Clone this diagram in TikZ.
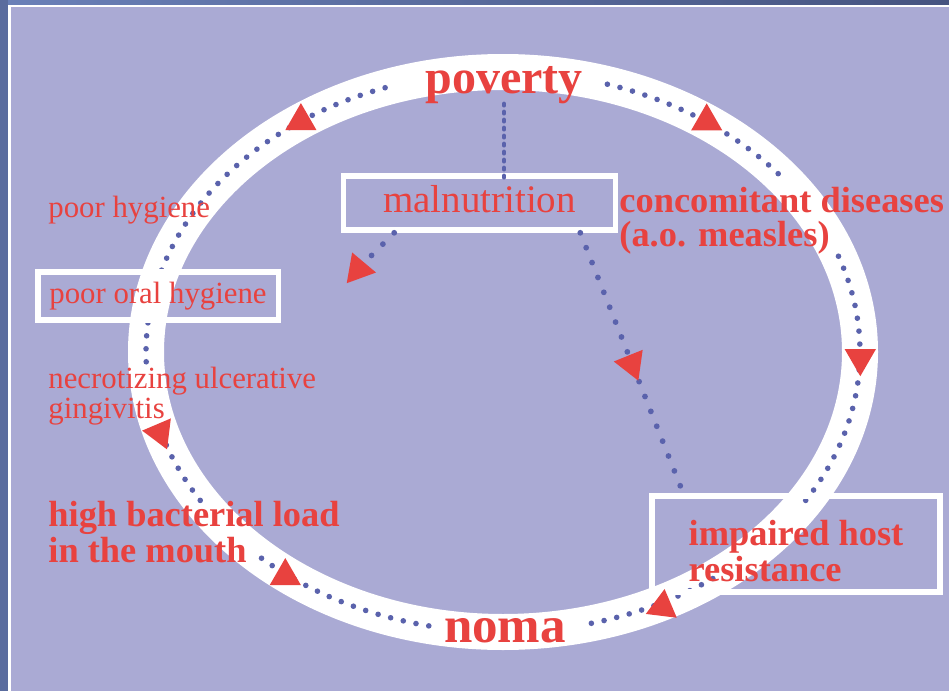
\documentclass[tikz,border=0pt]{standalone}
\usepackage{fontspec}
\setmainfont{Liberation Serif}
\usetikzlibrary{shapes.geometric}

\definecolor{lavender}{HTML}{AAAAD4}
\definecolor{nomared}{HTML}{E8423F}
\definecolor{dotblue}{HTML}{5A62AC}
\definecolor{bandblue}{HTML}{5A6C9E}
\definecolor{topblueA}{HTML}{6A80B8}
\definecolor{topblueB}{HTML}{7D93C9}
\definecolor{topblueC}{HTML}{465480}

\tikzset{
  ringdots/.style={dotblue, line width=2.8pt, line cap=round, dash pattern=on 0pt off 6.5pt},
  linkdots/.style={dotblue, line width=2.9pt, line cap=round, dash pattern=on 0pt off 8pt},
  dashlink/.style={dotblue, line width=2.2pt, line cap=round, dash pattern=on 0.8pt off 3.2pt},
  whitebox/.style={draw=white, line width=2.8pt, rectangle, inner sep=0pt},
  tri/.style={regular polygon, regular polygon sides=3, fill=nomared, minimum size=18pt, inner sep=0pt},
  bigword/.style={text=nomared, font=\fontsize{24}{24}\selectfont\bfseries, inner sep=0pt},
  boldtext/.style={text=nomared, font=\fontsize{18.2}{18}\selectfont\bfseries, align=left, inner sep=0pt},
  plaintext/.style={text=nomared, font=\fontsize{15.4}{15}\selectfont, align=left, inner sep=0pt}
}

\begin{document}
\begin{tikzpicture}[x=0.5pt,y=-0.5pt]
  \useasboundingbox (0,0) rectangle (949,691);
  % slide background
  \fill[lavender] (0,0) rectangle (949,691);
  \shade[left color=topblueA, middle color=topblueB, right color=topblueC] (0,0) rectangle (949,4.5);
  \fill[bandblue] (0,0) rectangle (8,691);
  \draw[white, line width=1pt] (8,5.5) -- (949,5.5);
  \draw[white, line width=1.6pt] (9.6,5.5) -- (9.6,691);

  % the ring
  \draw[white, line width=18pt] (503,352) ellipse [x radius=357, y radius=280];
  \foreach \a/\b in {287/321.3, 340/392.4, 54/77, 102/133.5, 148/163, 178/188, 197/252.5}
    \draw[ringdots] plot[variable=\t, domain=\a:\b, samples=40, smooth]
      ({503+357*cos(\t)}, {352+280*sin(\t)});

  % labels
  \node[bigword, anchor=base] (poverty) at (504,93) {poverty};
  \node[bigword, font=\fontsize{25.5}{26}\selectfont\bfseries, anchor=base] (noma) at (505,642) {noma};
  \node[whitebox, text=nomared, font=\fontsize{19.5}{20}\selectfont, text depth=4.3pt,
        minimum width=136pt, minimum height=27pt] (malnut) at (479.5,203) {malnutrition};
  \node[boldtext, font=\fontsize{18.2}{17}\selectfont\bfseries, anchor=base west] (concom) at (619,246)
    {concomitant diseases\\(a.o. measles)};
  \node[whitebox, boldtext, text height=37.5pt, minimum width=144pt, minimum height=48pt] (host)
    at (796,544) {impaired host\\resistance};
  \node[plaintext, anchor=base west] (hyg) at (48,217) {poor hygiene};
  \node[whitebox, plaintext, minimum width=120.3pt, minimum height=24.2pt] (oral) at (158,296)
    {poor oral hygiene};
  \node[plaintext, anchor=base west] (nug) at (48,418) {necrotizing ulcerative\\gingivitis};
  \node[boldtext, anchor=base west] (load) at (48,562) {high bacterial load\\in the mouth};

  % links out of malnutrition
  \coordinate (nutend) at (362,265);
  \draw[dashlink, shorten >=-4pt] (poverty.south) -- (poverty.south |- malnut.north);
  \draw[linkdots] ([xshift=26.75pt]malnut.south west) -- (nutend);
  \draw[linkdots] ([xshift=-19pt]malnut.south east) -- ([xshift=17pt]host.north west);
  \node[tri, rotate=140] (tip1) at (358.3,269.4) {};
  \node[tri, rotate=-38] (tip2) at (631.6,364) {};

  % arrowheads on the ring
  \node[tri] (tri1) at (300.9,121.1) {};
  \node[tri] (tri2) at (706.7,121.4) {};
  \node[tri, rotate=180] (tri3) at (860.3,358.2) {};
  \node[tri, rotate=-7] (tri4) at (662.4,606.9) {};
  \node[tri] (tri5) at (285.3,576.1) {};
  \node[tri, rotate=-157] (tri6) at (160,432.8) {};
\end{tikzpicture}
\end{document}
